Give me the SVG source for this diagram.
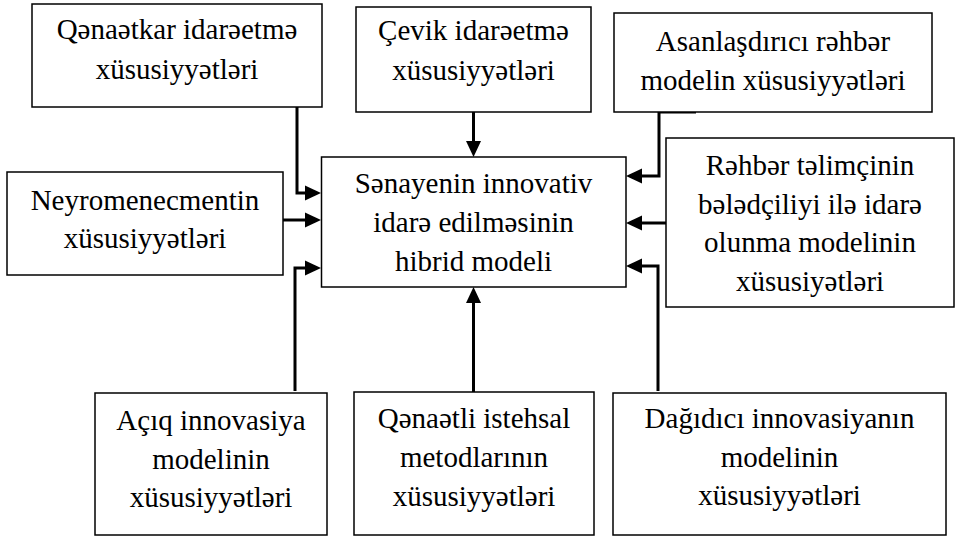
<svg xmlns="http://www.w3.org/2000/svg" width="959" height="536" viewBox="0 0 959 536">
<style>
.box{fill:#fff;stroke:#000;stroke-width:1.5}
.t{font-family:"Liberation Serif","Times New Roman",serif;font-size:29px;fill:#000;text-anchor:middle}
.c{fill:none;stroke:#000;stroke-width:3;stroke-linejoin:miter}
</style>
<defs>
<marker id="ah" markerUnits="userSpaceOnUse" markerWidth="16" markerHeight="15" refX="6" refY="7.5" orient="auto" overflow="visible">
<path d="M0,0 L16,7.5 L0,15 z" fill="#000"/>
</marker>
</defs>
<rect width="959" height="536" fill="#fff"/>
<g id="connectors">
<path class="c" d="M297,107 V193 H311" marker-end="url(#ah)"/>
<path class="c" d="M283,220 H311" marker-end="url(#ah)"/>
<path class="c" d="M295,391 V268 H311" marker-end="url(#ah)"/>
<path class="c" d="M473.5,112 V147" marker-end="url(#ah)"/>
<path class="c" d="M473.5,392 V297" marker-end="url(#ah)"/>
<path class="c" d="M696,112 H659 V176 H636" marker-end="url(#ah)"/>
<path class="c" d="M666,223 H636" marker-end="url(#ah)"/>
<path class="c" d="M658,391 V266 H636" marker-end="url(#ah)"/>
</g>
<g id="n-qenaetkar">
<rect class="box" x="32" y="4" width="290" height="103"/>
<text class="t" x="177" y="39">Qənaətkar idarəetmə</text>
<text class="t" x="177" y="79">xüsusiyyətləri</text>
</g>
<g id="n-cevik">
<rect class="box" x="356" y="7" width="235" height="105"/>
<text class="t" x="473.5" y="40">Çevik idarəetmə</text>
<text class="t" x="473.5" y="80">xüsusiyyətləri</text>
</g>
<g id="n-asanlasdirici">
<rect class="box" x="614" y="13" width="318" height="99"/>
<text class="t" x="773" y="51">Asanlaşdırıcı rəhbər</text>
<text class="t" x="773" y="90">modelin xüsusiyyətləri</text>
</g>
<g id="n-neyro">
<rect class="box" x="7" y="172" width="276" height="103"/>
<text class="t" x="145" y="210">Neyromenecmentin</text>
<text class="t" x="145" y="248">xüsusiyyətləri</text>
</g>
<g id="n-center">
<rect class="box" x="321.5" y="157" width="304.5" height="130"/>
<text class="t" x="473.5" y="193">Sənayenin innovativ</text>
<text class="t" x="473.5" y="232">idarə edilməsinin</text>
<text class="t" x="473.5" y="271">hibrid modeli</text>
</g>
<g id="n-rehber">
<rect class="box" x="666" y="138" width="288" height="169"/>
<text class="t" x="810" y="175">Rəhbər təlimçinin</text>
<text class="t" x="810" y="214">bələdçiliyi ilə idarə</text>
<text class="t" x="810" y="252">olunma modelinin</text>
<text class="t" x="810" y="291">xüsusiyətləri</text>
</g>
<g id="n-aciq">
<rect class="box" x="95" y="393" width="232" height="142"/>
<text class="t" x="211" y="430">Açıq innovasiya</text>
<text class="t" x="211" y="469">modelinin</text>
<text class="t" x="211" y="507">xüsusiyyətləri</text>
</g>
<g id="n-qenaetli">
<rect class="box" x="354" y="392" width="240" height="143"/>
<text class="t" x="474" y="428">Qənaətli istehsal</text>
<text class="t" x="474" y="467">metodlarının</text>
<text class="t" x="474" y="506">xüsusiyyətləri</text>
</g>
<g id="n-dagidici">
<rect class="box" x="613" y="393" width="333" height="142"/>
<text class="t" x="779.5" y="428">Dağıdıcı innovasiyanın</text>
<text class="t" x="779.5" y="467">modelinin</text>
<text class="t" x="779.5" y="505">xüsusiyyətləri</text>
</g>
</svg>
